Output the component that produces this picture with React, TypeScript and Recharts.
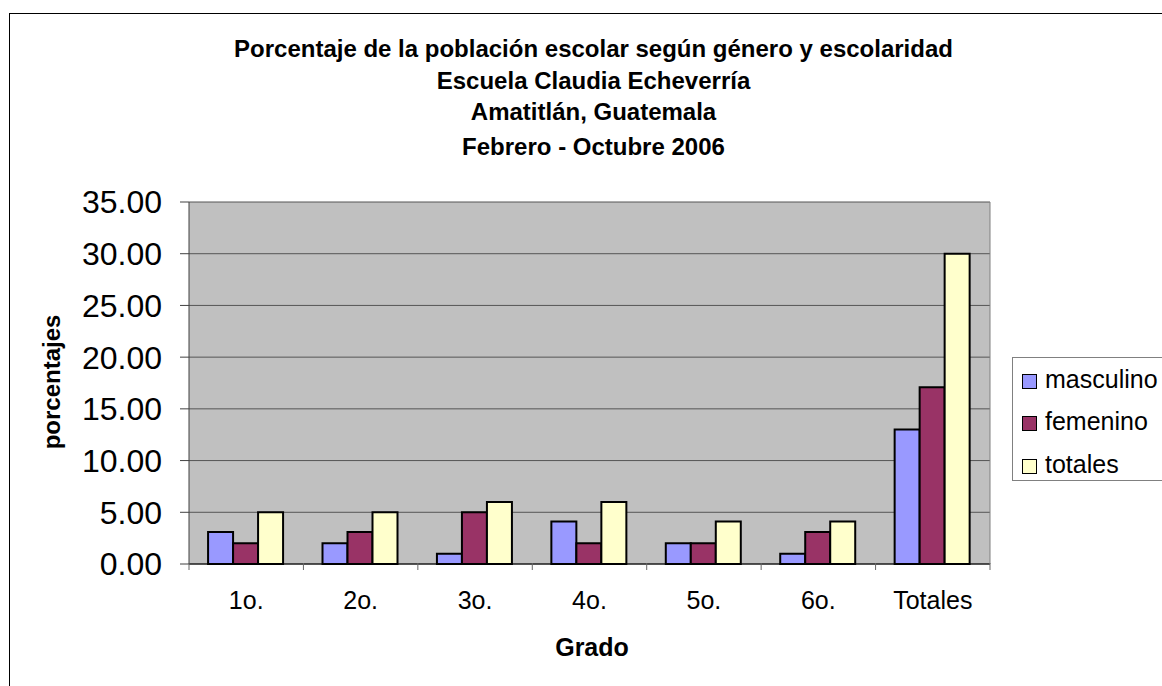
import React from 'react';
import { BarChart, Bar, XAxis, YAxis, CartesianGrid, Legend } from 'recharts';

const categories = ['1o.', '2o.', '3o.', '4o.', '5o.', '6o.', 'Totales'];
const masculino = [3.1, 2.0, 1.0, 4.1, 2.0, 1.0, 13.0];
const femenino = [2.0, 3.1, 5.0, 2.0, 2.0, 3.1, 17.1];
const totales = [5.0, 5.0, 6.0, 6.0, 4.1, 4.1, 30.0];
const yTicks = [0, 5, 10, 15, 20, 25, 30, 35];
const titleLines = [
  'Porcentaje de la población escolar según género y escolaridad',
  'Escuela Claudia Echeverría',
  'Amatitlán, Guatemala',
  'Febrero - Octubre 2006',
];
const seriesNames = ['masculino', 'femenino', 'totales'];
const seriesColors = ['#9999FF', '#993366', '#FFFFCC'];

const data = categories.map((name, i) => ({
  name,
  masculino: masculino[i],
  femenino: femenino[i],
  totales: totales[i],
}));

const FONT = '"Liberation Sans", Arial, sans-serif';

const LegendContent = (props: any) => {
  const payload = [...(props.payload || [])].sort(
    (a: any, b: any) => seriesNames.indexOf(a.value) - seriesNames.indexOf(b.value)
  );
  return (
    <div
      style={{
        position: 'relative',
        width: 200,
        height: 124,
        border: '1px solid #808080',
        background: '#fff',
        fontFamily: FONT,
        fontSize: 25,
        color: '#000',
        boxSizing: 'border-box',
      }}
    >
      {payload.map((p: any, i: number) => (
        <div
          key={p.value}
          style={{
            position: 'absolute',
            left: 9,
            top: 5 + i * 42.5,
            height: 36,
            display: 'flex',
            alignItems: 'center',
            whiteSpace: 'nowrap',
          }}
        >
          <span
            style={{
              display: 'inline-block',
              width: 13,
              height: 13,
              background: p.color,
              border: '1px solid #000',
              marginRight: 8,
            }}
          />
          <span style={{ position: 'relative', top: -2 }}>{p.value}</span>
        </div>
      ))}
    </div>
  );
};

const CategoryTick = (props: any) => {
  const { x, y, payload, index, visibleTicksCount } = props;
  const off = payload && typeof payload.offset === 'number' ? payload.offset : 0;
  const axisY = y - 28;
  const last = index === (visibleTicksCount ?? categories.length) - 1;
  return (
    <g>
      <line x1={x - off} x2={x - off} y1={axisY} y2={axisY + 7} stroke="#666" />
      {last && <line x1={x + off} x2={x + off} y1={axisY} y2={axisY + 7} stroke="#666" />}
      <text
        x={x}
        y={y}
        dy={18}
        textAnchor="middle"
        fontSize={25}
        fill="#000"
        fontFamily={FONT}
      >
        {payload.value}
      </text>
    </g>
  );
};

export default function App() {
  return (
    <div
      style={{
        position: 'absolute',
        left: 0,
        top: 0,
        width: 1162,
        height: 686,
        overflow: 'hidden',
        background: '#fff',
      }}
    >
      <div
        style={{
          position: 'absolute',
          left: 9,
          top: 13,
          width: 1200,
          height: 700,
          border: '1px solid #000',
        }}
      />
      <div style={{ position: 'absolute', left: 0, top: 0 }}>
        <BarChart
          width={1162}
          height={686}
          data={data}
          margin={{ top: 202, right: 171, bottom: 121, left: 188 }}
          barCategoryGap="16.67%"
          barGap={0}
        >
          <CartesianGrid vertical={false} stroke="#555" fill="#C0C0C0" fillOpacity={1} />
          <XAxis
            dataKey="name"
            interval={0}
            height={1}
            tickLine={false}
            tickSize={0}
            tickMargin={27}
            axisLine={{ stroke: '#000', strokeWidth: 1 }}
            tick={CategoryTick}
          />
          <YAxis
            domain={[0, 35]}
            ticks={yTicks}
            width={1}
            tickSize={9}
            tickMargin={18}
            tickFormatter={(v: number) => v.toFixed(2)}
            axisLine={{ stroke: '#404040' }}
            tickLine={{ stroke: '#404040' }}
            tick={{ fontSize: 32, fill: '#000', fontFamily: FONT }}
          />
          <YAxis
            yAxisId="right"
            orientation="right"
            domain={[0, 35]}
            ticks={yTicks}
            width={1}
            tick={false}
            tickLine={false}
            axisLine={{ stroke: '#808080' }}
          />
          <Legend
            layout="vertical"
            align="center"
            verticalAlign="middle"
            content={LegendContent}
            wrapperStyle={{ position: 'absolute', left: 1012, top: 357, width: 200, height: 124 }}
          />
          {seriesNames.map((s, i) => (
            <Bar
              key={s}
              dataKey={s}
              name={s}
              fill={seriesColors[i]}
              stroke="#000"
              strokeWidth={2}
              isAnimationActive={false}
            />
          ))}
        </BarChart>
      </div>
      <svg
        width={1162}
        height={686}
        style={{ position: 'absolute', left: 0, top: 0, pointerEvents: 'none' }}
      >
        {titleLines.map((t, i) => (
          <text
            key={t}
            x={593.5}
            y={[57, 89, 120, 155][i]}
            textAnchor="middle"
            fontFamily={FONT}
            fontWeight="bold"
            fontSize={24}
            fill="#000"
          >
            {t}
          </text>
        ))}
        <text
          x={592}
          y={656}
          textAnchor="middle"
          fontFamily={FONT}
          fontWeight="bold"
          fontSize={25}
          fill="#000"
        >
          Grado
        </text>
        <text
          transform="translate(60,382) rotate(-90)"
          textAnchor="middle"
          fontFamily={FONT}
          fontWeight="bold"
          fontSize={24}
          fill="#000"
        >
          porcentajes
        </text>
      </svg>
    </div>
  );
}
